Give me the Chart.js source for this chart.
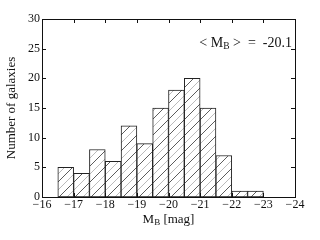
<!DOCTYPE html>
<html><head><meta charset="utf-8">
<script src="https://cdn.jsdelivr.net/npm/chart.js@4"></script>
<style>html,body{margin:0;padding:0;background:#fff}#c{display:block}</style>
</head><body>
<canvas id="c" width="320" height="240"></canvas>
<script>
const binCenters = [-16.75,-17.25,-17.75,-18.25,-18.75,-19.25,-19.75,-20.25,-20.75,-21.25,-21.75,-22.25,-22.75];
const counts = [5,4,8,6,12,9,15,18,20,15,7,1,1];
const xTicks = [-16,-17,-18,-19,-20,-21,-22,-23,-24];
const yTicks = [0,5,10,15,20,25,30];
const meanLabel = '-20.1';

function hatch(){
  const t=document.createElement('canvas'); t.width=16; t.height=16;
  const g=t.getContext('2d');
  g.fillStyle='#fff'; g.fillRect(0,0,16,16);
  g.lineWidth=0.8;
  const lines=[[0,'#333'],[8,'#aaa']];
  for(const [o,col] of lines){
    g.strokeStyle=col;
    for(const s of [-16,0,16]){
      g.beginPath(); g.moveTo(o+s,16); g.lineTo(o+s+16,0); g.stroke();
    }
  }
  return g.createPattern(t,'repeat');
}
const ctx=document.getElementById('c').getContext('2d');
const F='"Liberation Serif", "DejaVu Serif", serif';
const minus=v=>v<0?'\u2212'+Math.abs(v):String(v);

const frame={id:'frame',afterDraw(ch){
  const {ctx:c,chartArea:a,scales:{x,y}}=ch;
  c.save(); c.strokeStyle='#111'; c.lineWidth=1;
  c.strokeRect(Math.round(a.left)+0.5,Math.round(a.top)+0.5,Math.round(a.right-a.left),Math.round(a.bottom-a.top));
  c.beginPath();
  for(const v of xTicks){const px=Math.round(x.getPixelForValue(v))+0.5;
    c.moveTo(px,a.bottom);c.lineTo(px,a.bottom-4);c.moveTo(px,a.top);c.lineTo(px,a.top+4);}
  for(const v of yTicks){const py=Math.round(y.getPixelForValue(v))+0.5;
    c.moveTo(a.left,py);c.lineTo(a.left+4,py);c.moveTo(a.right,py);c.lineTo(a.right-4,py);}
  c.stroke();
  c.fillStyle='#111'; c.textBaseline='alphabetic';
  // x title
  const cx=(a.left+a.right)/2, by=223;
  c.font='13px '+F;
  const w1=c.measureText('M').width;
  c.font='9px '+F; const w2=c.measureText('B').width;
  c.font='13px '+F; const w3=c.measureText(' [mag]').width;
  let sx=cx-(w1+w2+w3)/2;
  c.textAlign='left';
  c.fillText('M',sx,by); c.font='9px '+F; c.fillText('B',sx+w1,by+2); c.font='13px '+F; c.fillText(' [mag]',sx+w1+w2,by);
  // annotation
  const ay=47;
  const parts=[['< M',14,0],['B',9.5,2],[' >  =  '+meanLabel,14,0]];
  let tw=0; for(const p of parts){c.font=p[1]+'px '+F; tw+=c.measureText(p[0]).width;}
  let ax=a.right-3-tw;
  for(const p of parts){c.font=p[1]+'px '+F; c.fillText(p[0],ax,ay+p[2]); ax+=c.measureText(p[0]).width;}
  // y title
  c.translate(15,(a.top+a.bottom)/2); c.rotate(-Math.PI/2);
  c.textAlign='center'; c.font='13px '+F; c.fillText('Number of galaxies',0,0);
  c.restore();
}};

new Chart(ctx,{
  type:'bar',
  data:{datasets:[{data:binCenters.map((x,i)=>({x,y:counts[i]})),
    backgroundColor:hatch(),borderColor:'#222',borderWidth:1,borderSkipped:false,
    barPercentage:1,categoryPercentage:1}]},
  options:{responsive:false,animation:false,
    layout:{padding:{top:19,right:25,left:0,bottom:0}},
    plugins:{legend:{display:false},tooltip:{enabled:false}},
    scales:{
      x:{type:'linear',min:-24,max:-16,reverse:true,offset:false,
        afterFit(s){s.height=43;},
        afterBuildTicks(s){s.ticks=xTicks.map(v=>({value:v}));},
        grid:{display:false,drawTicks:false,offset:false},border:{display:false},
        ticks:{padding:1,color:'#111',font:{family:F,size:12},callback:v=>minus(v),maxRotation:0,autoSkip:false}},
      y:{min:0,max:30,
        afterFit(s){s.width=42;},
        afterBuildTicks(s){s.ticks=yTicks.map(v=>({value:v}));},
        grid:{display:false,drawTicks:false},border:{display:false},
        ticks:{padding:2,color:'#111',font:{family:F,size:12},autoSkip:false}}
    }},
  plugins:[frame]
});
</script></body></html>
